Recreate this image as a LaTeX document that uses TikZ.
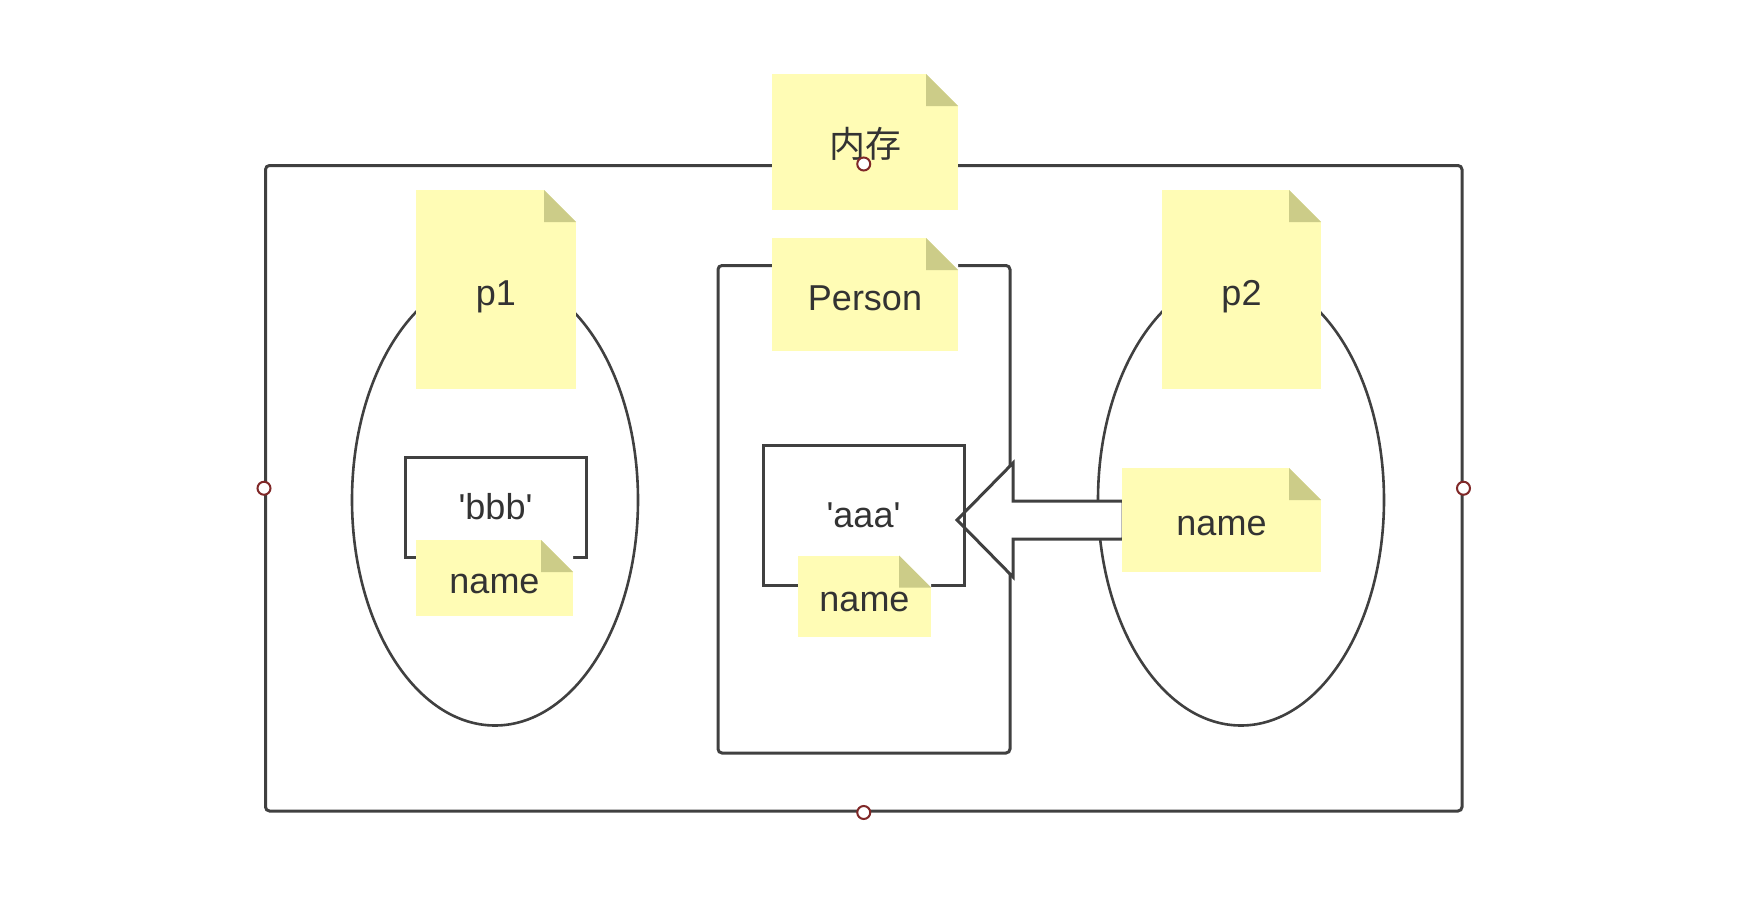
\documentclass[tikz,border=0pt]{standalone}
\usepackage{fontspec}
\setmainfont{Liberation Sans}
\newfontfamily\cjk{Noto Sans CJK SC}
\usepackage{xcolor}
\usepackage{tikz}
\usetikzlibrary{shapes.geometric, positioning}
\definecolor{noteyellow}{RGB}{255, 252, 181}
\definecolor{notefold}{RGB}{204, 204, 136}
\definecolor{linegray}{RGB}{64, 64, 64}
\definecolor{textgray}{RGB}{51, 51, 51}
\definecolor{handlered}{RGB}{128, 40, 40}

\begin{document}
\begin{tikzpicture}[x=0.5pt, y=-0.5pt,
    font=\fontsize{18}{22}\selectfont,
    frame/.style={rectangle, draw=linegray, line width=1.5pt, rounded corners=2pt, inner sep=0pt},
    valbox/.style={rectangle, draw=linegray, line width=1.5pt, fill=white, inner sep=0pt, text=textgray},
    objshape/.style={ellipse, draw=linegray, line width=1.3pt, inner sep=0pt},
    note/.style={rectangle, fill=noteyellow, inner sep=0pt, text=textgray, text height=15.5pt, text depth=0pt,
        path picture={
            \fill[white] ([xshift=-16pt]path picture bounding box.north east) -- (path picture bounding box.north east) -- ([yshift=-16pt]path picture bounding box.north east) -- cycle;
            \fill[notefold] ([xshift=-16pt]path picture bounding box.north east) -- ([xshift=-16pt, yshift=-16pt]path picture bounding box.north east) -- ([yshift=-16pt]path picture bounding box.north east) -- cycle;
        }},
    handle/.style={circle, draw=handlered, fill=white, line width=1pt, inner sep=0pt, minimum size=6.5pt},
    blockarrow/.style={draw=linegray, fill=white, line width=1.5pt, line join=miter}]

    \useasboundingbox (0,0) rectangle (1742,910);

    % memory frame and its contents
    \node [frame, minimum width=598.25pt, minimum height=322.75pt] (mem) at (863.75,488.25) {};
    \node [objshape, minimum width=143pt, minimum height=225.5pt] (obj1) at (495,500) {};
    \node [objshape, minimum width=143pt, minimum height=225.5pt] (obj2) at (1241,500) {};
    \node [frame, minimum width=146pt, minimum height=243.75pt] (cls) at (864,509.25) {};

    \node [note, minimum width=80pt, minimum height=99.5pt] (p1) at (496,289.5) {p1};
    \node [note, minimum width=79.5pt, minimum height=99.5pt] (p2) at (1241.5,289.5) {p2};
    \node [note, minimum width=93pt, minimum height=68pt] (memlabel) at (865,142) {{\cjk 内存}};
    \node [note, minimum width=93pt, minimum height=56.5pt] (person) at (865,294.5) {Person};

    \node [valbox, minimum width=90.5pt, minimum height=50pt] (bbb) at (495.5,507) {\textquotesingle bbb\textquotesingle};
    \node [note, minimum width=78.5pt, minimum height=38pt] (name1) at (494.5,578) {name};

    % reference from p2.name to the class attribute
    \coordinate (tip) at (957,520);
    \draw [blockarrow] (tip) -- ++(56,-57) -- ++(0,38) -- ++(110,0) -- ++(0,38) -- ++(-110,0) -- ++(0,38) -- cycle;

    \node [valbox, fill=none, minimum width=100.5pt, minimum height=70pt] (aaa) at (863.5,515.5) {\textquotesingle aaa\textquotesingle};
    \node [note, minimum width=66.5pt, minimum height=40.5pt] (name0) at (864.5,596) {name};
    \node [note, minimum width=99.5pt, minimum height=52pt] (name2) at (1221.5,520) {name};

    \foreach \side in {north, south, west, east}
        \node [handle] (h-\side) at (mem.\side) {};
\end{tikzpicture}
\end{document}
